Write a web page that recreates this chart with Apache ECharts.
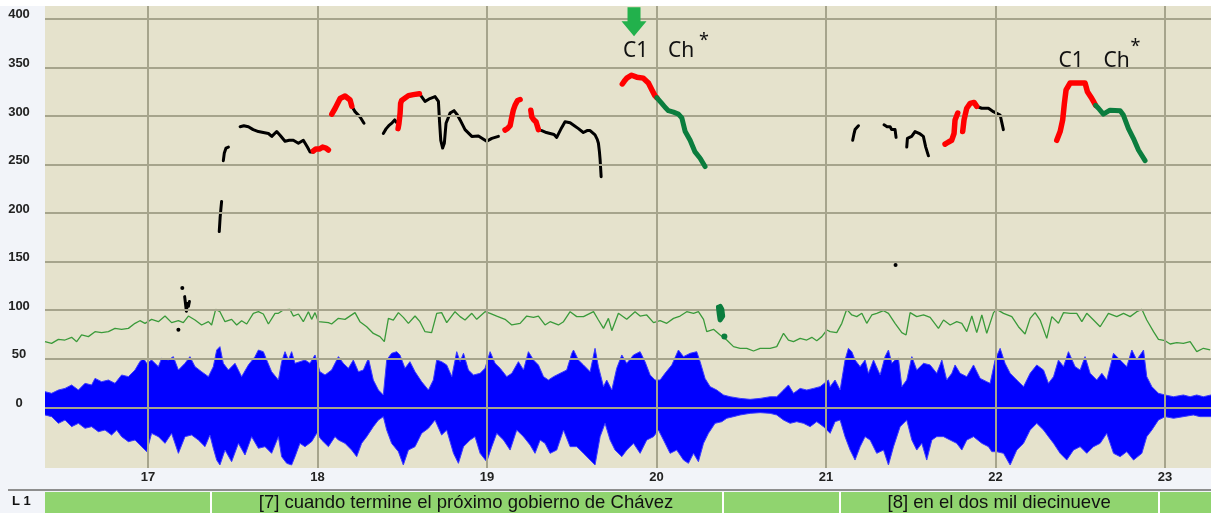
<!DOCTYPE html>
<html><head><meta charset="utf-8">
<script src="https://cdn.jsdelivr.net/npm/echarts@6/dist/echarts.min.js"></script>
<style>html,body{margin:0;padding:0;background:#f2f4f9;}#c{width:1211px;height:513px;}</style>
</head><body><div id="c"></div>
<script>
// ---- axes / ticks ----
const xTicks = [17, 18, 19, 20, 21, 22, 23];
const yTicks = [0, 50, 100, 150, 200, 250, 300, 350, 400];
const xRange = [16.392, 23.271];
const yRange = [-62.5, 413.3];

// ---- tier (text grid) ----
const tierBounds = [17.366, 20.386, 21.083, 22.959];
const tierTexts = [
  { from: 17.366, to: 20.386, text: '[7] cuando termine el próximo gobierno de Chávez' },
  { from: 21.083, to: 22.959, text: '[8] en el dos mil diecinueve' }
];
const tierName = 'L 1';

// ---- pitch curves (Hz) ----
const pitchBlack = [
  [[17.420,181],[17.425,195],[17.430,205],[17.434,212]],
  [[17.444,254],[17.450,262],[17.460,267],[17.474,268]],
  [[17.543,289],[17.565,290],[17.592,289],[17.620,286],[17.651,284],[17.680,283],[17.710,282],[17.730,279],[17.759,284],[17.780,280],[17.808,274],[17.833,275],[17.857,275],[17.887,272],[17.916,275],[17.940,268],[17.956,263],[17.975,263]],
  [[18.202,310],[18.221,304.5],[18.251,299],[18.274,292.5]],
  [[18.388,282],[18.405,287],[18.420,290],[18.440,293],[18.455,296],[18.468,293]],
  [[18.601,323],[18.634,315],[18.663,318],[18.693,320],[18.713,315],[18.719,296],[18.727,275],[18.738,267],[18.748,272],[18.758,292.5],[18.782,303],[18.805,305.5],[18.825,301],[18.841,296],[18.870,286],[18.910,279],[18.949,279.5],[18.998,274],[19.028,277],[19.067,279]],
  [[19.303,286],[19.323,285],[19.350,283],[19.372,282],[19.395,281],[19.411,278],[19.440,288],[19.460,294],[19.490,293],[19.515,290],[19.539,287],[19.568,283],[19.590,285],[19.608,285],[19.637,280.5],[19.650,276],[19.657,272],[19.663,263],[19.667,255],[19.673,237.5]],
  [[21.157,275],[21.164,281],[21.171,286],[21.191,290]],
  [[21.342,291],[21.360,289],[21.378,289],[21.387,286],[21.407,286],[21.413,278]],
  [[21.476,268],[21.480,277],[21.505,279],[21.525,284],[21.555,281.5],[21.574,279],[21.588,268],[21.604,259]],
  [[21.889,310],[21.918,308],[21.958,308],[21.987,304.5],[22.027,301],[22.036,294],[22.046,286]],
  [[17.216,114],[17.222,105],[17.226,99],[17.232,107],[17.238,104],[17.244,109]]
];
const pitchRed = [
  [[17.975,264],[17.990,266],[18.010,266],[18.030,268],[18.050,267],[18.064,265]],
  [[18.084,302],[18.104,308],[18.133,318],[18.162,320.6],[18.192,316.5],[18.202,310]],
  [[18.475,287],[18.480,292],[18.487,303],[18.490,313],[18.496,316],[18.506,318],[18.536,321],[18.565,322],[18.601,323]],
  [[19.106,285.6],[19.120,287],[19.136,290],[19.146,299],[19.155,306],[19.165,311],[19.180,316],[19.195,317]],
  [[19.258,306],[19.264,299],[19.276,296],[19.289,294],[19.296,290],[19.303,286]],
  [[19.798,333],[19.810,336],[19.824,339],[19.853,342],[19.883,340],[19.922,339],[19.952,334],[19.972,327],[19.990,321],[20.001,319]],
  [[21.702,271],[21.720,273],[21.741,275],[21.755,282],[21.761,296],[21.777,303]],
  [[21.806,284],[21.814,296],[21.830,308],[21.850,313],[21.873,314],[21.889,310]],
  [[22.361,275],[22.381,284],[22.396,296],[22.406,313],[22.416,327],[22.440,334],[22.489,334],[22.528,334],[22.542,325],[22.568,318],[22.581,314],[22.590,311]]
];
const pitchGreen = [
  [[20.001,319],[20.031,313],[20.050,309],[20.070,305.5],[20.100,304],[20.129,302],[20.149,298],[20.169,284],[20.198,275],[20.227,263],[20.257,256.5],[20.286,248]],
  [[22.590,311],[22.607,308],[22.636,302],[22.675,306],[22.735,305.5],[22.754,301],[22.784,287],[22.813,277],[22.843,265],[22.882,254]],
  [[20.365,103],[20.370,96],[20.375,90],[20.385,88],[20.390,94],[20.385,101],[20.375,104]]
];
const pitchDotsBlack = [[17.179,80],[17.202,123],[21.410,146.5]];
const pitchDotsGreen = [[20.400,73]];

// ---- intensity (dB) ----
const intensity = [
[16.392,67.6],[16.431,65.9],[16.471,70.0],[16.510,69.3],[16.549,72.1],[16.579,67.6],[16.608,74.5],[16.648,72.8],[16.687,77.9],[16.726,76.9],[16.766,77.9],[16.805,81.3],[16.844,80.3],[16.884,81.3],[16.923,86.5],[16.952,89.2],[16.982,86.5],[17.021,90.6],[17.061,88.2],[17.100,94.0],[17.139,87.2],[17.179,89.2],[17.208,87.2],[17.238,94.0],[17.277,89.9],[17.316,84.8],[17.356,88.2],[17.375,84.8],[17.399,100.9],[17.424,98.5],[17.454,88.2],[17.493,90.6],[17.523,84.8],[17.552,89.2],[17.582,85.8],[17.621,96.8],[17.651,98.5],[17.680,96.1],[17.710,85.8],[17.749,96.8],[17.769,96.8],[17.798,100.2],[17.837,100.9],[17.857,94.0],[17.887,96.1],[17.916,88.2],[17.946,98.5],[17.965,90.6],[17.985,97.5],[18.005,88.2],[18.064,87.2],[18.083,85.8],[18.123,91.6],[18.162,90.6],[18.221,97.5],[18.250,88.2],[18.290,83.0],[18.329,76.1],[18.368,72.8],[18.394,67.6],[18.418,91.6],[18.447,89.9],[18.477,97.5],[18.506,92.6],[18.536,86.5],[18.575,94.0],[18.604,88.2],[18.634,77.9],[18.673,76.9],[18.703,96.8],[18.732,97.5],
[18.762,87.2],[18.811,98.5],[18.841,93.4],[18.870,89.9],[18.910,96.8],[18.939,90.6],[18.988,98.5],[19.018,96.8],[19.057,94.0],[19.106,90.6],[19.146,84.8],[19.195,86.5],[19.234,94.0],[19.274,92.6],[19.303,94.0],[19.342,84.8],[19.372,88.2],[19.421,84.8],[19.451,88.2],[19.490,98.5],[19.529,93.4],[19.569,93.4],[19.628,98.5],[19.657,89.9],[19.687,81.3],[19.716,91.6],[19.736,78.9],[19.775,96.8],[19.824,90.6],[19.873,98.5],[19.903,94.0],[19.942,95.1],[19.982,87.2],[20.021,89.2],[20.060,86.5],[20.100,91.6],[20.139,94.0],[20.178,98.5],[20.218,96.8],[20.247,98.5],[20.277,90.6],[20.296,77.9],[20.336,80.3],[20.375,74.5],[20.414,69.3],[20.454,62.5],[20.493,60.8],[20.532,60.8],[20.572,58.0],[20.611,60.8],[20.670,60.8],[20.709,62.5],[20.749,76.2],[20.778,69.3],[20.808,67.6],[20.847,71.0],[20.886,69.3],[20.916,72.1],[20.945,68.6],[20.975,72.8],[21.005,79.6],
[21.024,77.9],[21.063,76.9],[21.093,86.5],[21.122,100.9],[21.152,95.1],[21.181,93.4],[21.211,96.8],[21.240,86.5],[21.270,95.1],[21.299,96.8],[21.339,99.5],[21.368,96.8],[21.407,86.5],[21.447,76.9],[21.472,74.5],[21.496,97.5],[21.535,93.4],[21.575,95.1],[21.614,92.6],[21.663,81.3],[21.693,89.9],[21.732,84.8],[21.771,88.2],[21.801,86.5],[21.830,77.9],[21.860,94.0],[21.889,76.9],[21.919,95.1],[21.948,76.2],[21.988,97.5],[22.007,100.9],[22.047,96.8],[22.096,93.4],[22.135,83.0],[22.174,75.5],[22.204,91.6],[22.233,97.5],[22.263,89.9],[22.302,71.0],[22.332,93.4],[22.371,86.5],[22.401,97.5],[22.440,96.8],[22.479,96.8],[22.509,88.2],[22.538,96.8],[22.578,89.9],[22.617,83.0],[22.666,96.8],[22.715,93.4],[22.755,96.8],[22.794,93.4],[22.833,98.5],[22.863,100.9],[22.892,89.9],[22.932,77.9],[22.961,70.0],[23.000,68.6],[23.030,65.2],[23.069,66.6],[23.108,65.9],[23.148,67.6],[23.187,57.3],[23.226,60.8],[23.266,59.1]
];

// ---- waveform envelope ----
const waveUpper = [
[16.392,16.1],[16.431,14.4],[16.471,17.8],[16.510,19.5],[16.549,23.0],[16.589,17.8],[16.628,24.7],[16.667,23.0],[16.687,29.8],[16.726,26.4],[16.766,28.1],[16.805,24.7],[16.844,33.3],[16.884,31.6],[16.923,38.4],[16.952,47.0],[16.972,50.5],[16.992,45.3],[17.021,48.7],[17.061,41.9],[17.080,50.5],[17.120,48.7],[17.149,52.2],[17.179,38.4],[17.218,45.3],[17.247,52.2],[17.277,41.9],[17.316,36.7],[17.356,31.6],[17.385,41.9],[17.405,59.0],[17.424,62.5],[17.444,45.3],[17.474,38.4],[17.513,45.3],[17.552,31.6],[17.592,43.6],[17.631,52.2],[17.651,59.0],[17.680,57.3],[17.700,48.7],[17.729,36.7],[17.769,28.1],[17.788,47.0],[17.808,57.3],[17.828,48.7],[17.847,57.3],[17.867,45.3],[17.896,47.0],[17.926,48.7],[17.955,45.3],[17.985,53.9],[18.014,36.7],[18.044,33.3],[18.083,38.4],[18.123,52.2],[18.152,45.3],[18.182,40.2],[18.211,48.7],[18.241,36.7],[18.270,38.4],[18.300,50.5],[18.329,28.1],[18.359,17.8],[18.388,12.7],[18.408,48.7],[18.437,55.6],[18.467,57.3],[18.486,53.9],[18.516,40.2],[18.545,47.0],[18.575,36.7],[18.614,26.4],[18.654,17.8],[18.683,28.1],[18.703,48.7],[18.732,47.0],
[18.762,43.6],[18.792,31.6],[18.821,57.3],[18.841,47.0],[18.861,55.6],[18.890,38.4],[18.920,33.3],[18.959,35.0],[18.988,40.2],[19.018,57.3],[19.047,45.3],[19.077,40.2],[19.116,31.6],[19.146,35.0],[19.185,47.0],[19.215,38.4],[19.244,57.3],[19.274,48.7],[19.303,43.6],[19.333,31.6],[19.362,28.1],[19.392,31.6],[19.431,35.0],[19.470,38.4],[19.500,55.6],[19.510,59.0],[19.539,48.7],[19.569,43.6],[19.608,36.7],[19.637,60.7],[19.657,41.9],[19.687,21.3],[19.706,28.1],[19.736,17.8],[19.765,40.2],[19.795,53.9],[19.824,45.3],[19.864,53.9],[19.903,57.3],[19.932,47.0],[19.962,33.3],[19.991,28.1],[20.021,28.1],[20.050,35.0],[20.090,43.6],[20.129,59.0],[20.159,52.2],[20.198,55.6],[20.237,57.3],[20.257,47.0],[20.286,29.8],[20.316,21.3],[20.355,17.8],[20.395,12.7],[20.434,10.9],[20.493,9.2],[20.552,8.2],[20.611,9.2],[20.670,10.9],[20.709,10.9],[20.749,17.8],[20.778,23.0],[20.808,14.4],[20.847,19.5],[20.886,17.8],[20.926,19.5],[20.965,21.3],[21.014,28.1],
[21.024,21.3],[21.053,28.1],[21.083,17.8],[21.112,48.7],[21.132,60.7],[21.152,57.3],[21.171,48.7],[21.201,41.9],[21.230,48.7],[21.250,35.0],[21.280,48.7],[21.319,33.3],[21.348,52.2],[21.368,59.0],[21.388,45.3],[21.407,48.7],[21.427,50.5],[21.447,21.3],[21.476,28.1],[21.506,52.2],[21.535,38.4],[21.575,45.3],[21.614,43.6],[21.653,35.0],[21.683,48.7],[21.712,28.1],[21.742,35.0],[21.761,43.6],[21.791,35.0],[21.830,31.6],[21.870,43.6],[21.909,29.8],[21.948,26.4],[21.968,24.7],[21.997,48.7],[22.027,60.7],[22.056,45.3],[22.086,35.0],[22.125,28.1],[22.165,21.3],[22.204,35.0],[22.243,43.6],[22.283,38.4],[22.312,24.7],[22.342,31.6],[22.371,48.7],[22.401,41.9],[22.430,57.3],[22.469,41.9],[22.499,38.4],[22.528,52.2],[22.558,35.0],[22.597,28.1],[22.627,35.0],[22.656,28.1],[22.696,55.6],[22.735,48.7],[22.774,41.9],[22.804,59.0],[22.833,48.7],[22.873,59.0],[22.892,31.6],[22.922,21.3],[22.961,14.4],[23.000,12.7],[23.050,10.9],[23.108,12.7],[23.148,10.9],[23.187,12.7],[23.226,10.9],[23.271,12.7]
];
const waveLower = [
[16.392,-7.9],[16.431,-9.6],[16.471,-16.5],[16.510,-13.1],[16.549,-19.9],[16.589,-16.5],[16.628,-21.6],[16.667,-19.9],[16.707,-25.1],[16.746,-23.4],[16.785,-28.5],[16.815,-23.4],[16.844,-30.2],[16.884,-35.4],[16.923,-33.7],[16.962,-40.5],[16.992,-45.7],[17.021,-26.8],[17.061,-30.2],[17.100,-37.1],[17.139,-26.8],[17.179,-47.4],[17.218,-30.2],[17.257,-28.5],[17.297,-33.7],[17.336,-40.5],[17.365,-28.5],[17.385,-42.2],[17.405,-54.3],[17.424,-59.4],[17.454,-44.0],[17.493,-56.0],[17.533,-37.1],[17.572,-49.1],[17.611,-30.2],[17.651,-42.2],[17.690,-40.5],[17.729,-47.4],[17.769,-30.2],[17.788,-50.8],[17.818,-57.7],[17.847,-59.4],[17.867,-50.8],[17.896,-37.1],[17.926,-40.5],[17.965,-35.4],[17.995,-26.8],[18.024,-33.7],[18.064,-40.5],[18.103,-30.2],[18.123,-33.7],[18.162,-37.1],[18.201,-44.0],[18.231,-50.8],[18.260,-37.1],[18.290,-30.2],[18.329,-19.9],[18.359,-13.1],[18.388,-9.6],[18.408,-23.4],[18.437,-37.1],[18.477,-45.7],[18.506,-59.4],[18.536,-44.0],[18.575,-40.5],[18.614,-26.8],[18.654,-21.6],[18.693,-13.1],[18.732,-28.5],
[18.762,-23.4],[18.802,-47.4],[18.831,-57.7],[18.861,-40.5],[18.900,-33.7],[18.929,-30.2],[18.959,-47.4],[18.998,-56.0],[19.028,-40.5],[19.057,-26.8],[19.097,-33.7],[19.136,-44.0],[19.175,-23.4],[19.215,-30.2],[19.254,-38.8],[19.283,-47.4],[19.313,-33.7],[19.342,-37.1],[19.372,-47.4],[19.411,-44.0],[19.451,-23.4],[19.490,-40.5],[19.529,-40.5],[19.569,-47.4],[19.608,-54.3],[19.637,-59.4],[19.667,-30.2],[19.696,-16.5],[19.726,-33.7],[19.755,-44.0],[19.795,-50.8],[19.824,-44.0],[19.864,-37.1],[19.903,-47.4],[19.942,-33.7],[19.982,-30.2],[20.011,-23.4],[20.041,-33.7],[20.080,-47.4],[20.119,-44.0],[20.159,-54.3],[20.188,-57.7],[20.218,-47.4],[20.247,-56.0],[20.277,-37.1],[20.306,-26.8],[20.345,-16.5],[20.385,-14.8],[20.414,-11.3],[20.454,-9.6],[20.493,-7.9],[20.552,-6.2],[20.611,-5.5],[20.670,-6.2],[20.709,-7.9],[20.749,-13.1],[20.788,-16.5],[20.827,-14.8],[20.867,-16.5],[20.906,-19.9],[20.945,-14.8],[20.985,-19.9],
[21.024,-26.8],[21.053,-14.8],[21.083,-13.1],[21.112,-30.2],[21.142,-44.0],[21.171,-54.3],[21.201,-40.5],[21.230,-30.2],[21.260,-33.7],[21.299,-47.4],[21.339,-44.0],[21.368,-59.4],[21.398,-40.5],[21.437,-19.9],[21.476,-13.1],[21.506,-33.7],[21.535,-44.0],[21.565,-37.1],[21.594,-54.3],[21.624,-33.7],[21.653,-30.2],[21.693,-30.2],[21.732,-33.7],[21.771,-37.1],[21.801,-44.0],[21.830,-33.7],[21.870,-30.2],[21.919,-37.1],[21.958,-40.5],[21.978,-45.7],[22.007,-45.7],[22.047,-47.4],[22.086,-59.4],[22.125,-44.0],[22.165,-37.1],[22.204,-23.4],[22.243,-16.5],[22.283,-23.4],[22.312,-30.2],[22.342,-37.1],[22.381,-47.4],[22.420,-54.3],[22.460,-44.0],[22.499,-40.5],[22.538,-47.4],[22.578,-40.5],[22.617,-37.1],[22.656,-26.8],[22.696,-47.4],[22.735,-50.8],[22.774,-45.7],[22.814,-54.3],[22.863,-47.4],[22.892,-30.2],[22.922,-23.4],[22.961,-13.1],[23.000,-9.6],[23.050,-11.3],[23.108,-9.6],[23.167,-7.9],[23.206,-9.6],[23.271,-9.6]
];

// ---- annotations ----
const annotTexts = ['C1', 'Ch', '*', 'C1', 'Ch', '*'];
const annotT = [19.876, 20.145, 20.280, 22.446, 22.714, 22.826];
const annotV = [367, 367, 377, 357, 357, 371];
const arrowAt = [19.867, 397];

const GRID_COLOR = '#a6a48c';
const series = [];

series.push({ type: 'line', name: 'waveUp', data: waveUpper, symbol: 'none', z: 1,
  lineStyle: { color: '#3a3aff', width: 1 }, areaStyle: { origin: 0, color: '#0000ff', opacity: 1 } });
series.push({ type: 'line', name: 'waveLo', data: waveLower, symbol: 'none', z: 1,
  lineStyle: { color: '#3a3aff', width: 1 }, areaStyle: { origin: 0, color: '#0000ff', opacity: 1 } });

series.push({ type: 'line', name: 'grid', data: [], z: 2, silent: true,
  markLine: { silent: true, symbol: ['none', 'none'], label: { show: false },
    lineStyle: { color: GRID_COLOR, width: 2, type: 'solid' }, animation: false,
    data: yTicks.map(v => ({ yAxis: v })).concat(xTicks.map(t => ({ xAxis: t }))) } });

series.push({ type: 'line', name: 'intensity', data: intensity, symbol: 'none', z: 3,
  lineStyle: { color: '#3a9a3a', width: 1.3 } });

pitchBlack.forEach(seg => series.push({ type: 'line', data: seg, symbol: 'none', z: 4,
  lineStyle: { color: '#000', width: 3, cap: 'round', join: 'round' } }));
pitchRed.forEach(seg => series.push({ type: 'line', data: seg, symbol: 'none', z: 5,
  lineStyle: { color: '#ff0000', width: 5.5, cap: 'round', join: 'round' } }));
pitchGreen.forEach(seg => series.push({ type: 'line', data: seg, symbol: 'none', z: 5,
  lineStyle: { color: '#0b7d3e', width: 5, cap: 'round', join: 'round' } }));
series.push({ type: 'scatter', data: pitchDotsBlack, symbolSize: 4, z: 5, itemStyle: { color: '#000', opacity: 1 } });
series.push({ type: 'scatter', data: pitchDotsGreen, symbolSize: 6, z: 5, itemStyle: { color: '#0b7d3e', opacity: 1 } });

series.push({ type: 'scatter', z: 6, symbol: 'path://M6,0 L19,0 L19,14 L25,14 L12.5,29 L0,14 L6,14 Z',
  symbolSize: [25, 29], data: [arrowAt], itemStyle: { color: '#22b14c', opacity: 1 } });

series.push({ type: 'scatter', z: 6, symbolSize: 2, itemStyle: { color: 'rgba(0,0,0,0)', opacity: 1 },
  data: annotTexts.map((s, i) => ({ value: [annotT[i], annotV[i]], name: s,
    label: s === '*' ? { fontSize: 18 } : {} })),
  label: { show: true, position: 'inside', formatter: p => p.name, color: '#111',
    fontFamily: 'Noto Sans', fontSize: 21 } });

// tier
series.push({ type: 'line', xAxisIndex: 1, yAxisIndex: 1, data: [], silent: true,
  markArea: { silent: true, itemStyle: { color: 'rgba(0,0,0,0)' },
    label: { show: true, position: 'inside', color: '#111', fontFamily: 'Liberation Sans', fontSize: 18.5 },
    data: tierTexts.map(d => [{ xAxis: d.from, name: d.text }, { xAxis: d.to }]) },
  markLine: { silent: true, symbol: ['none', 'none'], label: { show: false },
    lineStyle: { color: '#ffffff', width: 2, type: 'solid' },
    data: tierBounds.map(t => ({ xAxis: t })) } });

const chart = echarts.init(document.getElementById('c'), null, { renderer: 'canvas' });
chart.setOption({
  animation: false,
  backgroundColor: '#f2f4f9',
  grid: [
    { left: 45, right: 0, top: 6, bottom: 45, show: true, backgroundColor: '#e5e2cc', borderWidth: 0 },
    { left: 45, right: 0, top: 492, height: 21, show: true, backgroundColor: '#90d46f', borderWidth: 0 }
  ],
  xAxis: [
    { type: 'value', gridIndex: 0, min: xRange[0], max: xRange[1],
      axisLine: { show: false }, axisTick: { show: false }, splitLine: { show: false },
      axisLabel: { customValues: xTicks, margin: 3, color: '#222', fontWeight: 'bold', fontSize: 13,
        fontFamily: 'Liberation Sans', showMinLabel: true, showMaxLabel: true } },
    { type: 'value', gridIndex: 1, min: xRange[0], max: xRange[1], show: false }
  ],
  yAxis: [
    { type: 'value', gridIndex: 0, min: yRange[0], max: yRange[1],
      axisLine: { show: false }, axisTick: { show: false }, splitLine: { show: false },
      axisLabel: { customValues: yTicks, margin: 26, align: 'center', verticalAlign: 'bottom', lineHeight: 8,
        color: '#222', fontWeight: 'bold', fontSize: 13, fontFamily: 'Liberation Sans' } },
    { type: 'value', gridIndex: 1, min: 0, max: 1, show: false }
  ],
  graphic: [
    { type: 'rect', shape: { x: 0, y: 0, width: 1211, height: 6 }, style: { fill: '#ffffff' }, silent: true },
    { type: 'rect', shape: { x: 8, y: 489, width: 1203, height: 2 }, style: { fill: '#8e8e8e' }, silent: true },
    { type: 'text', x: 12, y: 495, style: { text: tierName, fill: '#111', font: 'bold 13px "Liberation Sans"' }, silent: true }
  ],
  series: series
});
</script></body></html>
